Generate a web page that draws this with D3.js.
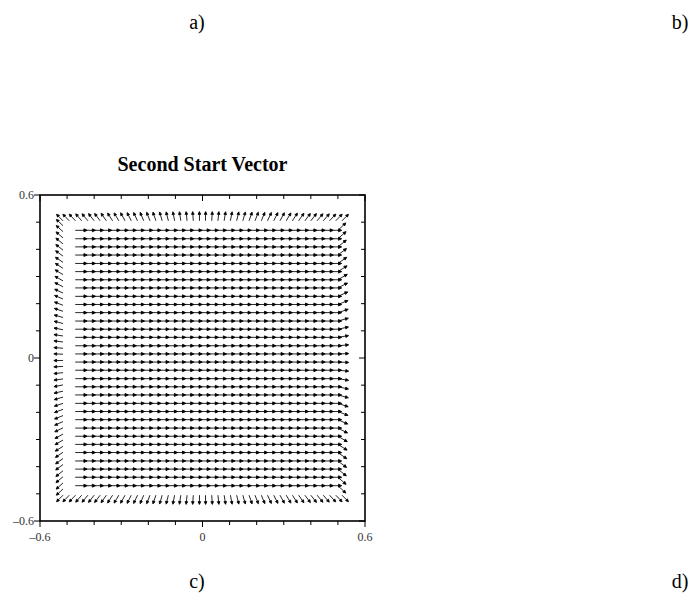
<!DOCTYPE html>
<html>
<head>
<script src="https://cdn.jsdelivr.net/npm/d3@7"></script>
<style>
  body { margin: 0; background: #fff; }
  svg { font-family: "Liberation Serif", "DejaVu Serif", serif; }
  .frame { fill: none; stroke: #000; stroke-width: 1.6; }
  .tick { stroke: #000; stroke-width: 1; }
  .arrow { fill: #000; stroke: #000; stroke-width: 0.85; }
  .ticklabel { font-size: 12px; fill: #333; }
  .panel { font-size: 20px; fill: #000; }
</style>
</head>
<body>
<script>
// grid rows / columns of the interior field (data units)
var rows = [0.470, 0.439, 0.409, 0.379, 0.348, 0.318, 0.288, 0.258, 0.227, 0.197, 0.167, 0.136, 0.106, 0.076, 0.045, 0.015,
            -0.015, -0.045, -0.076, -0.106, -0.136, -0.167, -0.197, -0.227, -0.258, -0.288, -0.318, -0.348, -0.379, -0.409, -0.439, -0.470];
var cols = [-0.470, -0.439, -0.409, -0.379, -0.348, -0.318, -0.288, -0.258, -0.227, -0.197, -0.167, -0.136, -0.106, -0.076, -0.045, -0.015,
            0.015, 0.045, 0.076, 0.106, 0.136, 0.167, 0.197, 0.227, 0.258, 0.288, 0.318, 0.348, 0.379, 0.409, 0.439, 0.470];
var interiorAngle = 0;

// right edge column: one arrow per row, angle in degrees
var rightX = 0.5;
var rightAngles = [43, 41, 39, 37, 35, 32, 30, 27, 24, 21, 18, 15, 12, 9, 5, 2,
                   -2, -5, -9, -12, -15, -18, -21, -24, -27, -30, -32, -35, -37, -39, -41, -43];

// top and bottom boundary rows
var topY = 0.505, bottomY = -0.505;
var edgeX = [-0.515, -0.492, -0.469, -0.446, -0.423, -0.400, -0.378, -0.355, -0.332, -0.309, -0.286, -0.263, -0.240, -0.217, -0.194, -0.172,
             -0.149, -0.126, -0.103, -0.080, -0.057, -0.034, -0.011, 0.011, 0.034, 0.057, 0.080, 0.103, 0.126, 0.149, 0.172, 0.194,
             0.217, 0.240, 0.263, 0.286, 0.309, 0.332, 0.355, 0.378, 0.400, 0.423, 0.446, 0.469, 0.492, 0.515];
var topAngles = [135, 134, 133, 131, 130, 128, 127, 125, 123, 121, 119, 117, 115, 113, 111, 109, 106, 104, 101, 99, 96, 94, 91,
                 89, 86, 84, 81, 79, 76, 74, 71, 69, 67, 65, 63, 61, 59, 57, 55, 53, 52, 50, 49, 47, 46, 45];
var bottomAngles = [-135, -134, -133, -131, -130, -128, -127, -125, -123, -121, -119, -117, -115, -113, -111, -109, -106, -104, -101, -99, -96, -94, -91,
                    -89, -86, -84, -81, -79, -76, -74, -71, -69, -67, -65, -63, -61, -59, -57, -55, -53, -52, -50, -49, -47, -46, -45];

// left boundary column
var leftX = -0.515;
var leftY = [0.487, 0.465, 0.442, 0.420, 0.397, 0.375, 0.352, 0.330, 0.307, 0.284, 0.262, 0.239, 0.217, 0.194, 0.172, 0.149,
             0.127, 0.104, 0.081, 0.059, 0.036, 0.014, -0.009, -0.031, -0.054, -0.077, -0.099, -0.122, -0.144, -0.167, -0.189, -0.212,
             -0.234, -0.257, -0.280, -0.302, -0.325, -0.347, -0.370, -0.392, -0.415, -0.437, -0.460, -0.482];
var leftAngles = [137, 138, 139, 141, 142, 144, 146, 147, 149, 151, 153, 155, 157, 159, 162, 164,
                  166, 169, 171, 173, 176, 178, -179, -177, -174, -172, -169, -167, -164, -162, -160, -158,
                  -156, -154, -151, -150, -148, -146, -144, -143, -141, -140, -138, -137];

var ticks = [-0.6, -0.5, -0.4, -0.3, -0.2, -0.1, 0, 0.1, 0.2, 0.3, 0.4, 0.5, 0.6];
var tickLabels = [-0.6, 0, 0.6];
var title = "Second Start Vector";
var panels = ["a)", "b)", "c)", "d)"];

var W = 694, H = 596;
var x = d3.scaleLinear().domain([-0.6, 0.6]).range([40, 365]);
var y = d3.scaleLinear().domain([-0.6, 0.6]).range([521, 195]);

var svg = d3.select("body").append("svg")
  .attr("width", W)
  .attr("height", H);

// collect arrows: {x, y, a (deg), len, head}
var arrows = [];
rows.forEach(function (r) {
  cols.forEach(function (c) {
    arrows.push({x: c, y: r, a: interiorAngle, len: 0.044, hl: 3.2, hw: 1.5});
  });
});
rows.forEach(function (r, i) {
  arrows.push({x: rightX, y: r, a: rightAngles[i], len: 0.04, hl: 3, hw: 1.4});
});
edgeX.forEach(function (c, i) {
  arrows.push({x: c, y: topY, a: topAngles[i], len: 0.034, hl: 2.8, hw: 1.3});
  arrows.push({x: c, y: bottomY, a: bottomAngles[i], len: 0.034, hl: 2.8, hw: 1.3});
});
leftY.forEach(function (r, i) {
  arrows.push({x: leftX, y: r, a: leftAngles[i], len: 0.034, hl: 2.8, hw: 1.3});
});

function arrowPath(d) {
  var t = d.a * Math.PI / 180;
  var x0 = x(d.x), y0 = y(d.y);
  var x1 = x(d.x + d.len * Math.cos(t)), y1 = y(d.y + d.len * Math.sin(t));
  var dx = x1 - x0, dy = y1 - y0, L = Math.sqrt(dx * dx + dy * dy);
  var ux = dx / L, uy = dy / L;
  var bx = x1 - ux * d.hl, by = y1 - uy * d.hl;
  return "M" + x0 + "," + y0 + "L" + bx + "," + by +
    "M" + x1 + "," + y1 +
    "L" + (bx - uy * d.hw) + "," + (by + ux * d.hw) +
    "L" + (bx + uy * d.hw) + "," + (by - ux * d.hw) + "Z";
}

svg.append("g").selectAll("path")
  .data(arrows)
  .enter().append("path")
  .attr("class", "arrow")
  .attr("d", arrowPath);

// frame
svg.append("rect")
  .attr("class", "frame")
  .attr("x", x(-0.6))
  .attr("y", y(0.6))
  .attr("width", x(0.6) - x(-0.6))
  .attr("height", y(-0.6) - y(0.6));

// ticks: left/bottom point outward, top/right mirror them inward
function tlen(t) { return tickLabels.indexOf(t) >= 0 ? 6 : 4; }
var tg = svg.append("g");
ticks.forEach(function (t) {
  tg.append("line").attr("class", "tick")
    .attr("x1", x(t)).attr("x2", x(t))
    .attr("y1", y(-0.6)).attr("y2", y(-0.6) + tlen(t));
  tg.append("line").attr("class", "tick")
    .attr("x1", x(t)).attr("x2", x(t))
    .attr("y1", y(0.6)).attr("y2", y(0.6) + tlen(t));
  tg.append("line").attr("class", "tick")
    .attr("y1", y(t)).attr("y2", y(t))
    .attr("x1", x(-0.6)).attr("x2", x(-0.6) - tlen(t));
  tg.append("line").attr("class", "tick")
    .attr("y1", y(t)).attr("y2", y(t))
    .attr("x1", x(0.6)).attr("x2", x(0.6) - tlen(t));
});

function fmt(v) { return v < 0 ? "\u2013" + Math.abs(v) : String(v); }

tickLabels.forEach(function (t) {
  svg.append("text").attr("class", "ticklabel")
    .attr("x", x(t)).attr("y", 541)
    .attr("text-anchor", "middle")
    .text(fmt(t));
  svg.append("text").attr("class", "ticklabel")
    .attr("x", 34).attr("y", y(t) + 4)
    .attr("text-anchor", "end")
    .text(fmt(t));
});

svg.append("text")
  .attr("x", x(0)).attr("y", 171)
  .attr("text-anchor", "middle")
  .style("font-size", "20px")
  .style("font-weight", "bold")
  .text(title);

var panelPos = [[197, 29], [680, 29], [197, 588], [680, 588]];
panels.forEach(function (p, i) {
  svg.append("text").attr("class", "panel")
    .attr("x", panelPos[i][0]).attr("y", panelPos[i][1])
    .attr("text-anchor", "middle")
    .text(p);
});
</script>
</body>
</html>
